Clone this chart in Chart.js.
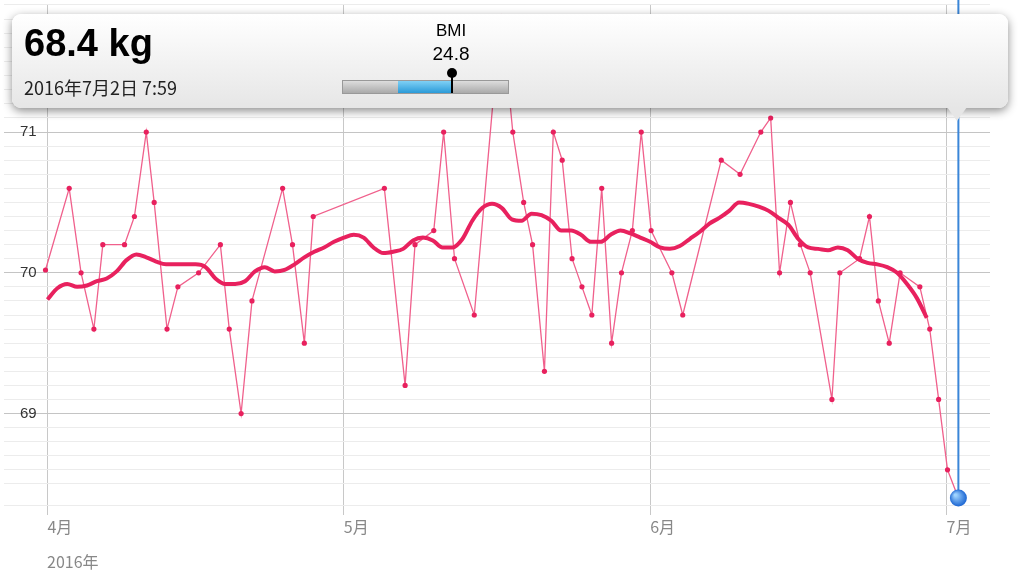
<!DOCTYPE html>
<html>
<head>
<meta charset="utf-8">
<script src="https://cdn.jsdelivr.net/npm/chart.js@4/dist/chart.umd.min.js"></script>
<style>
  body { margin: 0; background: #fff; font-family: "Noto Sans CJK JP", "Noto Sans", sans-serif; }
  #wrap { position: relative; width: 1024px; height: 576px; }
  #year { position: absolute; left: 47px; top: 549px; font-size: 16px; color: #888; }
  #tip { position: absolute; left: 12px; top: 14px; width: 996px; height: 94px; border-radius: 9px;
         background: linear-gradient(#ffffff, #e6e6e6); box-shadow: 0 3px 10px rgba(0,0,0,0.45); }
  #arrow { position: absolute; left: 935px; top: 93px; width: 0; height: 0;
           border-left: 10px solid transparent; border-right: 10px solid transparent; border-top: 14px solid #e6e6e6; }
  #kg { position: absolute; left: 12px; top: 8px; font: bold 38px "Liberation Sans", sans-serif; color: #000; }
  #date { position: absolute; left: 12px; top: 60px; font-size: 18px; color: #222; }
  #bmiL { position: absolute; left: 389px; top: 7px; width: 100px; text-align: center; font: 17px "Liberation Sans", sans-serif; }
  #bmiV { position: absolute; left: 389px; top: 29px; width: 100px; text-align: center; font: 19px "Liberation Sans", sans-serif; }
  #bar { position: absolute; left: 330px; top: 66px; width: 165px; height: 12px; background: linear-gradient(#ddd,#aaa); border: 1px solid #999; }
  #seg { position: absolute; left: 55px; top: 0; width: 54px; height: 12px; background: linear-gradient(#7fd0f5,#2a9ad8); }
  #pin { position: absolute; left: 108px; top: -10px; width: 2px; height: 22px; background: #000; }
  #knob { position: absolute; left: 104px; top: -13px; width: 10px; height: 10px; border-radius: 5px; background: #000; }
</style>
</head>
<body>
<div id="wrap">
  <canvas id="c" width="1024" height="576"></canvas>
  <div id="year">2016年</div>
  <div id="tip">
    <div id="arrow"></div>
    <div id="kg">68.4 kg</div>
    <div id="date">2016年7月2日 7:59</div>
    <div id="bmiL">BMI</div>
    <div id="bmiV">24.8</div>
    <div id="bar"><div id="seg"></div><div id="pin"></div><div id="knob"></div></div>
  </div>
</div>
<script>
// days counted from 2016-04-01
const monthDays = [0, 30, 61, 91];
const monthLabels = ['4月', '5月', '6月', '7月'];
const yLabels = [69, 70, 71];

const rawDays = [-0.2, 2.2, 3.4, 4.7, 5.6, 7.8, 8.8, 10.0, 10.8, 12.1, 13.2, 15.3, 17.5, 18.4, 19.6, 20.7, 23.8, 24.8, 26.0, 26.9,
  34.1, 36.2, 37.2, 39.1, 40.1, 41.2, 43.2, 45.2, 46.0, 47.1, 48.2, 49.1, 50.3, 51.2, 52.1, 53.1, 54.1, 55.1, 56.1, 57.1, 58.1, 59.2, 60.1,
  61.1, 63.2, 64.3, 68.2, 70.1, 72.2, 73.2, 74.1, 75.2, 76.2, 77.2, 79.4, 80.2, 82.2, 83.2, 84.1, 85.2, 86.3, 88.3, 89.3, 90.2, 91.1, 92.2];
const rawWeights = [70.02, 70.6, 70.0, 69.6, 70.2, 70.2, 70.4, 71.0, 70.5, 69.6, 69.9, 70.0, 70.2, 69.6, 69.0, 69.8, 70.6, 70.2, 69.5, 70.4,
  70.6, 69.2, 70.2, 70.3, 71.0, 70.1, 69.7, 71.3, 71.8, 71.0, 70.5, 70.2, 69.3, 71.0, 70.8, 70.1, 69.9, 69.7, 70.6, 69.5, 70.0, 70.3, 71.0,
  70.3, 70.0, 69.7, 70.8, 70.7, 71.0, 71.1, 70.0, 70.5, 70.2, 70.0, 69.1, 70.0, 70.1, 70.4, 69.8, 69.5, 70.0, 69.9, 69.6, 69.1, 68.6, 68.4];

// moving average, one value per day starting at day 0
const avgWeights = [69.81, 69.89, 69.92, 69.90, 69.91, 69.94, 69.96, 70.01, 70.09, 70.13, 70.11, 70.08, 70.06, 70.06, 70.06, 70.06,
  70.04, 69.96, 69.92, 69.92, 69.94, 70.01, 70.04, 70.01, 70.02, 70.06, 70.11, 70.15, 70.18, 70.22, 70.25, 70.27, 70.25, 70.18,
  70.14, 70.15, 70.17, 70.23, 70.25, 70.23, 70.18, 70.18, 70.24, 70.37, 70.46, 70.49, 70.46, 70.38, 70.37, 70.42, 70.41, 70.37,
  70.30, 70.30, 70.27, 70.22, 70.22, 70.27, 70.30, 70.28, 70.25, 70.22, 70.18, 70.17, 70.19, 70.24, 70.29, 70.35, 70.39, 70.44,
  70.50, 70.49, 70.47, 70.44, 70.39, 70.34, 70.24, 70.18, 70.17, 70.16, 70.18, 70.16, 70.10, 70.07, 70.06, 70.04, 70.00, 69.92,
  69.82, 69.68];

const isMajor = v => Math.abs(v - Math.round(v)) < 1e-6;

const overlay = {
  id: 'overlay',
  afterDatasetsDraw(chart) {
    const { ctx, scales: { x, y } } = chart;
    ctx.save();
    // y tick labels drawn inside the plot
    ctx.fillStyle = '#333';
    ctx.font = '15px "Liberation Sans"';
    ctx.textBaseline = 'middle';
    yLabels.forEach(v => ctx.fillText(String(v), 20, y.getPixelForValue(v)));
    // cursor at last reading
    const i = rawDays.length - 1;
    const px = x.getPixelForValue(rawDays[i]), py = y.getPixelForValue(rawWeights[i]);
    ctx.strokeStyle = '#3a86d8';
    ctx.lineWidth = 2;
    ctx.beginPath(); ctx.moveTo(px, 0); ctx.lineTo(px, chart.chartArea.bottom); ctx.stroke();
    const g = ctx.createRadialGradient(px - 3, py - 3, 1, px, py, 9);
    g.addColorStop(0, '#9fd4ff'); g.addColorStop(1, '#1560d0');
    ctx.fillStyle = g;
    ctx.beginPath(); ctx.arc(px, py, 8.5, 0, Math.PI * 2); ctx.fill();
    ctx.restore();
  }
};

new Chart(document.getElementById('c'), {
  type: 'scatter',
  data: {
    datasets: [
      { data: avgWeights.map((w, i) => ({ x: i, y: w })), showLine: true, borderColor: '#e8215e', borderWidth: 4,
        pointRadius: 0, cubicInterpolationMode: 'monotone' },
      { data: rawDays.map((d, i) => ({ x: d, y: rawWeights[i] })), showLine: true, borderColor: '#f0608c', borderWidth: 1.3,
        pointRadius: 2.6, pointBackgroundColor: '#e8215e', pointBorderWidth: 0 }
    ]
  },
  options: {
    responsive: false, animation: false,
    layout: { padding: { right: 34, left: 0, top: 0 } },
    plugins: { legend: { display: false }, tooltip: { enabled: false } },
    scales: {
      x: {
        type: 'linear', min: -4.4, max: 95.4,
        afterBuildTicks: s => { s.ticks = monthDays.map(v => ({ value: v })); },
        ticks: { callback: (v) => monthLabels[monthDays.indexOf(v)], align: 'start', color: '#888',
                 font: { size: 16, family: 'Noto Sans CJK JP' }, padding: 2, maxRotation: 0 },
        grid: { color: '#c8c8c8', tickLength: 10 },
        border: { display: false },
        afterFit: s => { s.height = 71; }
      },
      y: {
        min: 68.35, max: 71.91,
        ticks: { stepSize: 0.1, display: false, autoSkip: false },
        grid: { color: c => isMajor(c.tick.value) ? '#c4c4c4' : '#ececec', drawTicks: false },
        border: { display: false },
        afterFit: s => { s.width = 0; }
      }
    }
  },
  plugins: [overlay]
});
</script>
</body>
</html>
